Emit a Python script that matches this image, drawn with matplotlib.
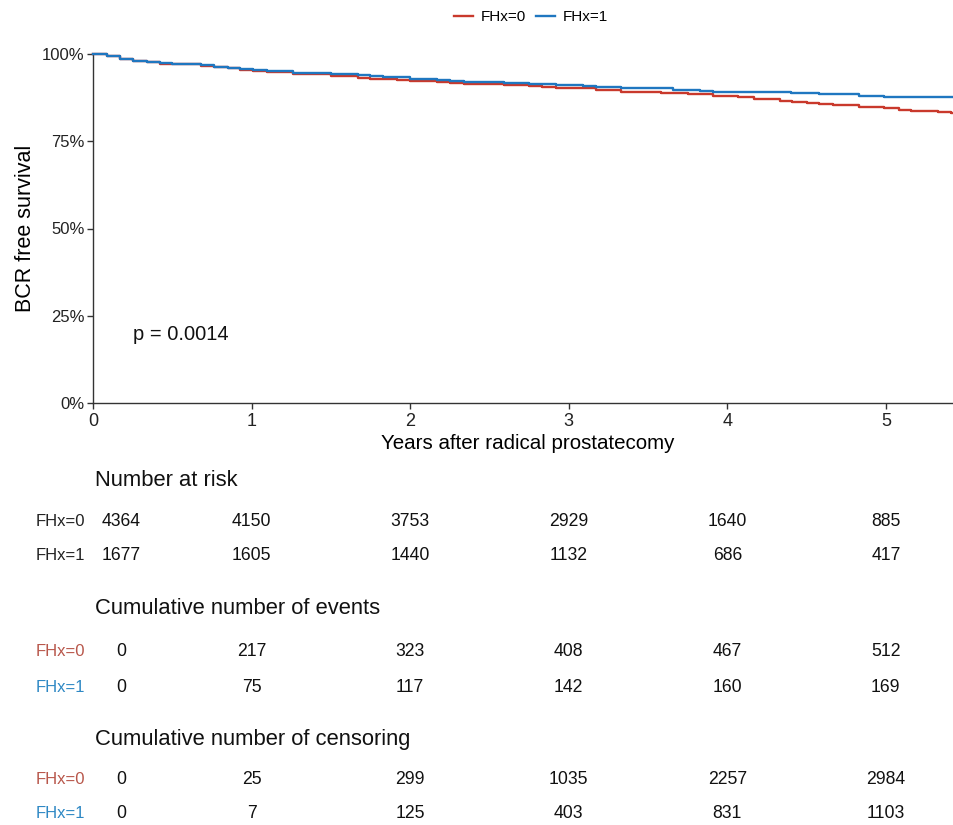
import matplotlib
matplotlib.use("Agg")
import matplotlib.pyplot as plt
import matplotlib.transforms as mtransforms

REG = 'Liberation Sans'

# ---------------- data ----------------
groups = ["FHx=0", "FHx=1"]

t_fhx0 = [0, 0.09, 0.17, 0.25, 0.34, 0.42, 0.50, 0.68, 0.76, 0.85, 0.93, 1.01, 1.10, 1.26,
          1.50, 1.58, 1.67, 1.75, 1.92, 2.00, 2.17, 2.25, 2.34, 2.51, 2.59, 2.75, 2.83, 2.92,
          3.17, 3.33, 3.58, 3.75, 3.91, 4.07, 4.17, 4.33, 4.41, 4.50, 4.58, 4.67, 4.83, 4.99,
          5.08, 5.16, 5.33, 5.41, 5.43]
s_fhx0 = [1.000, 0.995, 0.985, 0.980, 0.976, 0.972, 0.970, 0.967, 0.963, 0.959, 0.955, 0.952, 0.947, 0.943,
          0.938, 0.936, 0.932, 0.928, 0.926, 0.923, 0.920, 0.917, 0.915, 0.913, 0.910, 0.908, 0.905, 0.902,
          0.896, 0.892, 0.888, 0.885, 0.880, 0.876, 0.871, 0.866, 0.862, 0.860, 0.856, 0.853, 0.849, 0.845,
          0.840, 0.837, 0.833, 0.830, 0.830]

t_fhx1 = [0, 0.09, 0.17, 0.25, 0.34, 0.42, 0.50, 0.68, 0.76, 0.85, 0.93, 1.01, 1.10, 1.26,
          1.50, 1.67, 1.75, 1.83, 2.00, 2.17, 2.25, 2.34, 2.51, 2.59, 2.75, 2.92, 3.09, 3.17,
          3.33, 3.66, 3.83, 3.91, 4.40, 4.58, 4.83, 4.99, 5.43]
s_fhx1 = [1.000, 0.995, 0.986, 0.981, 0.977, 0.973, 0.971, 0.968, 0.964, 0.960, 0.957, 0.954, 0.950, 0.946,
          0.943, 0.939, 0.936, 0.933, 0.929, 0.926, 0.924, 0.921, 0.919, 0.916, 0.914, 0.911, 0.908, 0.905,
          0.903, 0.898, 0.895, 0.891, 0.887, 0.885, 0.881, 0.877, 0.877]

table_times = [0, 1, 2, 3, 4, 5]
at_risk = {"FHx=0": [4364, 4150, 3753, 2929, 1640, 885],
           "FHx=1": [1677, 1605, 1440, 1132, 686, 417]}
cum_events = {"FHx=0": [0, 217, 323, 408, 467, 512],
              "FHx=1": [0, 75, 117, 142, 160, 169]}
cum_censor = {"FHx=0": [0, 25, 299, 1035, 2257, 2984],
              "FHx=1": [0, 7, 125, 403, 831, 1103]}
p_text = "p = 0.0014"

# ---------------- style ----------------
col_line = {"FHx=0": "#C9392C", "FHx=1": "#1F77C0"}
col_lab = {"FHx=0": "#B8574B", "FHx=1": "#2E88C4"}

W, H = 954, 825
fig = plt.figure(figsize=(W / 100, H / 100), dpi=100)
ax = fig.add_axes([93 / W, 1 - 403 / H, (W - 93) / W, 349 / H])

for g, tt, ss in [("FHx=0", t_fhx0, s_fhx0), ("FHx=1", t_fhx1, s_fhx1)]:
    ax.step(tt, ss, where="post", color=col_line[g], lw=1.7, label=g, clip_on=False, zorder=3)

ax.set_xlim(0, 5.43)
ax.set_ylim(0, 1)
ax.set_xticks([0, 1, 2, 3, 4, 5])
ax.set_yticks([0, 0.25, 0.5, 0.75, 1.0])
ax.set_yticklabels(["0%", "25%", "50%", "75%", "100%"])
for s in ["top", "right"]:
    ax.spines[s].set_visible(False)
for s in ["left", "bottom"]:
    ax.spines[s].set_color("#333333")
    ax.spines[s].set_linewidth(1.0)
ax.tick_params(axis="both", direction="out", length=4, width=1.0, color="#333333", colors="#222222")
ax.tick_params(axis="y", pad=2)
ax.tick_params(axis="x", pad=3)
for lab in ax.get_yticklabels():
    lab.set_fontfamily(REG); lab.set_fontsize(12)
for lab in ax.get_xticklabels():
    lab.set_fontfamily(REG); lab.set_fontsize(13)

ax.set_xlabel("Years after radical prostatecomy", fontfamily=REG, fontsize=14.8)
ax.xaxis.set_label_coords((528 - 93) / (W - 93), -0.088)
ax.set_ylabel("BCR free survival", fontfamily=REG, fontsize=15.5, labelpad=4)
ax.text(0.25, 0.195, p_text, fontfamily=REG, fontsize=14.5, va="center", ha="left", color="#111111")

leg = fig.legend(loc="center", bbox_to_anchor=(531 / W, 1 - 17 / H), ncol=2, frameon=False,
                 prop={"family": REG, "size": 11}, handlelength=1.2, handletextpad=0.5,
                 columnspacing=0.7)

# ---------------- tables ----------------
blend = mtransforms.blended_transform_factory(ax.transData, fig.transFigure)
first_col_shift = 0.18  # display shift of the first column (years)


def yfig(py):
    return 1 - py / H


def draw_table(title, ty, data, rows_y, colored):
    fig.text(95 / W, yfig(ty), title, fontfamily=REG, fontsize=15.8, va="center", ha="left", color="#111111")
    for g, py in zip(groups, rows_y):
        fig.text(36 / W, yfig(py), g, fontfamily=REG, fontsize=12, va="center", ha="left",
                 color=col_lab[g] if colored else "#222222")
        for i, (t, v) in enumerate(zip(table_times, data[g])):
            xx = t + (first_col_shift if i == 0 else 0)
            fig.text(xx, yfig(py), str(v), transform=blend, fontfamily=REG, fontsize=12.7,
                     va="center", ha="center", color="#111111")


draw_table("Number at risk", 480, at_risk, [521, 556], False)
draw_table("Cumulative number of events", 608, cum_events, [651, 687], True)
draw_table("Cumulative number of censoring", 739, cum_censor, [780, 814], True)

fig.savefig("out.png", dpi=100)
